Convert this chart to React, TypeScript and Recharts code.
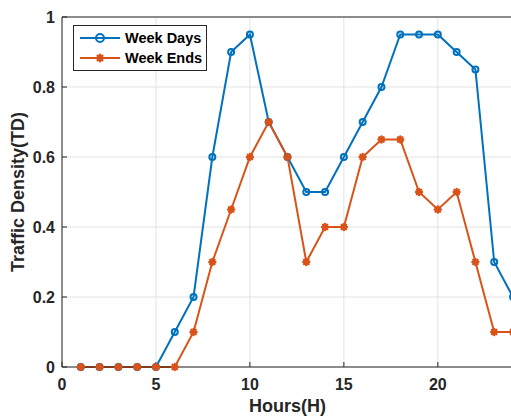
import { LineChart, Line, XAxis, YAxis, CartesianGrid, ReferenceLine } from 'recharts';

const hours = [1, 2, 3, 4, 5, 6, 7, 8, 9, 10, 11, 12, 13, 14, 15, 16, 17, 18, 19, 20, 21, 22, 23, 24];
const weekDays = [0, 0, 0, 0, 0, 0.1, 0.2, 0.6, 0.9, 0.95, 0.7, 0.6, 0.5, 0.5, 0.6, 0.7, 0.8, 0.95, 0.95, 0.95, 0.9, 0.85, 0.3, 0.2];
const weekEnds = [0, 0, 0, 0, 0, 0, 0.1, 0.3, 0.45, 0.6, 0.7, 0.6, 0.3, 0.4, 0.4, 0.6, 0.65, 0.65, 0.5, 0.45, 0.5, 0.3, 0.1, 0.1];
const xTicks = [0, 5, 10, 15, 20];
const yTicks = [0, 0.2, 0.4, 0.6, 0.8, 1];

const data = hours.map((h, i) => ({ hour: h, weekDays: weekDays[i], weekEnds: weekEnds[i] }));

const BLUE = '#0072BD';
const ORANGE = '#D95319';
const AXIS = '#262626';
const FONT = '"Liberation Sans", Arial, sans-serif';

function CircleDot(props: any) {
  const { cx, cy, r = 5.5 } = props;
  if (cx == null || cy == null) return null;
  return <circle cx={cx} cy={cy} r={r} fill="none" stroke={BLUE} strokeWidth={2} />;
}

function StarDot(props: any) {
  const { cx, cy, r = 4 } = props;
  if (cx == null || cy == null) return null;
  const d = r * 0.72;
  return (
    <g stroke={ORANGE} strokeWidth={2.4} strokeLinecap="round">
      <line x1={cx - r} y1={cy} x2={cx + r} y2={cy} />
      <line x1={cx} y1={cy - r} x2={cx} y2={cy + r} />
      <line x1={cx - d} y1={cy - d} x2={cx + d} y2={cy + d} />
      <line x1={cx - d} y1={cy + d} x2={cx + d} y2={cy - d} />
    </g>
  );
}

function LegendBox() {
  const row = (label: string, color: string, star: boolean) => (
    <div style={{ display: 'flex', alignItems: 'center', height: 20, whiteSpace: 'nowrap' }}>
      <svg width={44} height={14} style={{ marginRight: 3, flexShrink: 0 }}>
        <line x1={2} y1={7} x2={42} y2={7} stroke={color} strokeWidth={2} />
        {star ? <StarDot cx={22} cy={7} r={3.2} /> : <CircleDot cx={22} cy={7} r={4} />}
      </svg>
      <span style={{ fontWeight: 'bold', fontSize: 14.5, color: '#000', fontFamily: FONT, whiteSpace: 'nowrap' }}>{label}</span>
    </div>
  );
  return (
    <div style={{ position: 'absolute', left: 73, top: 25, boxSizing: 'border-box', border: `1px solid ${AXIS}`, background: '#fff', padding: '2px 0 2px 4px', width: 134 }}>
      {row('Week Days', BLUE, false)}
      {row('Week Ends', ORANGE, true)}
    </div>
  );
}

export default function App() {
  return (
    <div style={{ position: 'fixed', left: 0, top: 0, width: 511, height: 416, overflow: 'hidden', background: '#fff' }}>
      <LineChart width={520} height={416} data={data} margin={{ top: 17, right: 7, left: 0, bottom: 0 }}>
        <CartesianGrid stroke="#e3e3e3" strokeWidth={1} />
        <XAxis
          dataKey="hour"
          type="number"
          domain={[0, 24]}
          ticks={xTicks}
          allowDataOverflow
          height={49}
          stroke={AXIS}
          tickSize={-5}
          tickMargin={17}
          tick={{ fontSize: 16, fontWeight: 'bold', fill: AXIS, fontFamily: FONT }}
          label={{ value: 'Hours(H)', position: 'insideBottom', offset: 4, fontSize: 18, fontWeight: 'bold', fill: AXIS, fontFamily: FONT }}
        />
        <YAxis
          type="number"
          domain={[0, 1]}
          ticks={yTicks}
          width={62}
          stroke={AXIS}
          tickSize={-5}
          tickMargin={12}
          tickFormatter={(v: number) => String(v)}
          tick={{ fontSize: 16, fontWeight: 'bold', fill: AXIS, fontFamily: FONT }}
          label={{ value: 'Traffic Density(TD)', angle: -90, position: 'insideLeft', offset: 18, style: { textAnchor: 'middle' }, fontSize: 18, fontWeight: 'bold', fill: AXIS, fontFamily: FONT }}
        />
        <ReferenceLine y={1} stroke={AXIS} strokeWidth={1} />
        <Line
          type="linear"
          dataKey="weekDays"
          name="Week Days"
          stroke={BLUE}
          strokeWidth={2}
          dot={<CircleDot />}
          activeDot={false}
          isAnimationActive={false}
        />
        <Line
          type="linear"
          dataKey="weekEnds"
          name="Week Ends"
          stroke={ORANGE}
          strokeWidth={2}
          dot={<StarDot />}
          activeDot={false}
          isAnimationActive={false}
        />
      </LineChart>
      <LegendBox />
    </div>
  );
}
